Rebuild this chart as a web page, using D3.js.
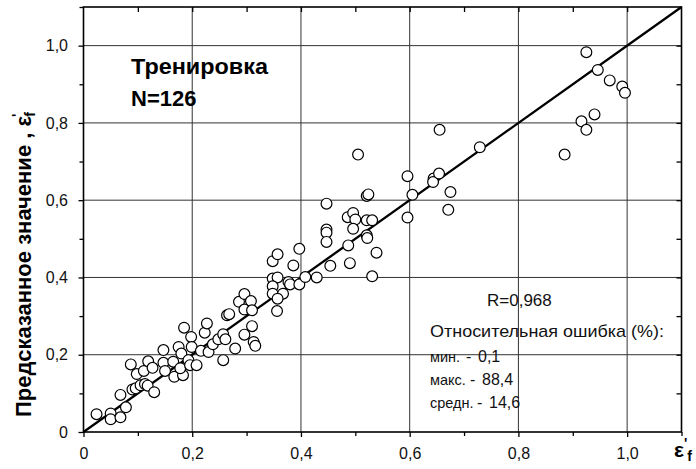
<!DOCTYPE html>
<html><head><meta charset="utf-8">
<script src="https://cdn.jsdelivr.net/npm/d3@7"></script>
<style>
html,body{margin:0;padding:0;background:#fff;}
svg{display:block;font-family:"Liberation Sans",Arial,sans-serif;}
</style></head>
<body>
<svg id="chart" width="696" height="469"></svg>
<script>
// Experimental epsilon'_f (x) vs. predicted (y), training set
const actual = [0.024,0.050,0.050,0.068,0.068,0.078,0.087,0.090,0.096,0.098,0.111,0.119,0.127,0.105,0.113,0.118,0.130,0.147,0.147,0.150,0.165,0.167,0.183,0.178,0.175,0.185,0.180,0.193,0.198,0.199,0.196,0.208,0.216,0.223,0.227,0.230,0.238,0.248,0.257,0.261,0.257,0.279,0.264,0.268,0.296,0.286,0.296,0.308,0.296,0.310,0.310,0.313,0.316,0.356,
0.348,0.357,0.386,0.397,0.348,0.357,0.348,0.348,0.367,0.357,0.377,0.380,0.397,0.408,0.429,0.447,0.447,0.447,0.447,0.454,0.486,0.496,0.500,0.496,0.487,0.490,0.521,0.524,0.521,0.531,0.521,0.522,0.539,0.531,0.505,0.596,0.596,0.605,0.644,0.643,0.654,0.675,0.671,0.655,0.729,
0.925,0.946,0.968,0.991,0.996,0.940,0.916,0.925,0.885];
const predicted = [0.046,0.048,0.033,0.038,0.096,0.064,0.175,0.110,0.113,0.150,0.158,0.183,0.166,0.121,0.124,0.120,0.103,0.212,0.179,0.158,0.182,0.143,0.147,0.165,0.220,0.270,0.203,0.186,0.246,0.220,0.173,0.173,0.210,0.257,0.281,0.207,0.227,0.240,0.253,0.240,0.186,0.216,0.302,0.305,0.252,0.337,0.357,0.339,0.317,0.315,0.274,0.233,0.223,0.313,
0.442,0.460,0.431,0.474,0.397,0.400,0.377,0.358,0.358,0.345,0.388,0.382,0.382,0.401,0.400,0.591,0.524,0.516,0.492,0.430,0.556,0.567,0.550,0.526,0.483,0.437,0.611,0.615,0.548,0.548,0.509,0.502,0.464,0.403,0.718,0.662,0.555,0.614,0.656,0.647,0.669,0.621,0.575,0.782,0.737,
0.983,0.937,0.910,0.894,0.878,0.822,0.804,0.782,0.718];
const majorTicks = [0,0.2,0.4,0.6,0.8,1.0];
const minorTicks = [0.1,0.3,0.5,0.7,0.9,1.1];
const gridTicks = [0.2,0.4,0.6,0.8,1.0];
const allTicks = [0.1,0.2,0.3,0.4,0.5,0.6,0.7,0.8,0.9,1.0];
const titleLines = ["Тренировка","N=126"];
const statsHeader = ["R=0,968","Относительная ошибка (%):"];
const statsLabels = ["мин.","макс.","средн."];
const statsValues = ["0,1","88,4","14,6"];
const yTitle = "Предсказанное значение , ";

const svg = d3.select("#chart");
const x = d3.scaleLinear().domain([0,1.1]).range([83.5,681.5]);
const y = d3.scaleLinear().domain([0,1.1]).range([432,7]);
const fmt = d => d===0 ? "0" : d3.format(".1f")(d).replace(".",",");

// grid
const grid = svg.append("g").attr("stroke","#333").attr("stroke-width",1);
grid.selectAll(".gx").data(gridTicks).join("line")
  .attr("x1",d=>x(d)).attr("x2",d=>x(d)).attr("y1",y(0)).attr("y2",y(1.1));
grid.selectAll(".gy").data(gridTicks).join("line")
  .attr("y1",d=>y(d)).attr("y2",d=>y(d)).attr("x1",x(0)).attr("x2",x(1.1));

// axes
function styleAxis(g){
  g.select(".domain").remove();
  g.selectAll("line").attr("stroke","#000").attr("stroke-width",1.3);
  g.selectAll("text").attr("font-size",16).attr("fill","#111");
}
svg.append("g").attr("transform",`translate(0,${y(0)})`)
  .call(d3.axisBottom(x).tickValues(majorTicks).tickFormat(fmt).tickSize(5).tickPadding(10.5)).call(styleAxis);
svg.append("g").attr("transform",`translate(0,${y(0)})`)
  .call(d3.axisBottom(x).tickValues(minorTicks).tickFormat("").tickSize(4)).call(styleAxis);
svg.append("g").attr("transform",`translate(${x(0)},0)`)
  .call(d3.axisLeft(y).tickValues(majorTicks).tickFormat(fmt).tickSize(5).tickPadding(10.5)).call(styleAxis);
svg.append("g").attr("transform",`translate(${x(0)},0)`)
  .call(d3.axisLeft(y).tickValues(minorTicks).tickFormat("").tickSize(4)).call(styleAxis);
svg.append("g").attr("transform",`translate(0,${y(1.1)})`)
  .call(d3.axisTop(x).tickValues(allTicks).tickFormat("").tickSize(-5)).call(styleAxis);
svg.append("g").attr("transform",`translate(${x(1.1)},0)`)
  .call(d3.axisRight(y).tickValues(allTicks).tickFormat("").tickSize(-5)).call(styleAxis);

// frame
svg.append("rect").attr("x",x(0)).attr("y",y(1.1)).attr("width",x(1.1)-x(0)).attr("height",y(0)-y(1.1))
  .attr("fill","none").attr("stroke","#000").attr("stroke-width",1.6);

// y = x line
svg.append("line").attr("x1",x(0)).attr("y1",y(0)).attr("x2",x(1.1)).attr("y2",y(1.1))
  .attr("stroke","#000").attr("stroke-width",2.3);

// points
svg.append("g").selectAll("circle").data(actual.map((a,i)=>[a,predicted[i]])).join("circle")
  .attr("cx",d=>x(d[0])).attr("cy",d=>y(d[1])).attr("r",5.4)
  .attr("fill","#fff").attr("stroke","#000").attr("stroke-width",1.2);

// title block
svg.append("text").attr("x",131).attr("y",74).attr("font-size",22).attr("font-weight","bold").attr("fill","#000")
  .attr("textLength",137).attr("lengthAdjust","spacingAndGlyphs").text(titleLines[0]);
svg.append("text").attr("x",131).attr("y",106).attr("font-size",22).attr("font-weight","bold").attr("fill","#000")
  .text(titleLines[1]);

// stats
svg.append("text").attr("x",487).attr("y",306).attr("font-size",17).attr("fill","#111").text(statsHeader[0]);
svg.append("text").attr("x",430).attr("y",337).attr("font-size",17).attr("fill","#111")
  .attr("textLength",234).attr("lengthAdjust","spacingAndGlyphs").text(statsHeader[1]);
const dashX = [466,470,477];
const valX = [478,482,489];
statsLabels.forEach((l,i)=>{
  const yy = 362 + i*23;
  svg.append("text").attr("x",430).attr("y",yy).attr("font-size",14.5).attr("fill","#111").text(l);
  svg.append("text").attr("x",dashX[i]).attr("y",yy).attr("font-size",16).attr("fill","#111").text("-");
  svg.append("text").attr("x",valX[i]).attr("y",yy).attr("font-size",16).attr("fill","#111").text(statsValues[i]);
});

// y-axis title
const yt = svg.append("text").attr("transform","translate(31,417) rotate(-90)")
  .attr("font-size",22).attr("font-weight","bold").attr("fill","#000");
yt.append("tspan").text(yTitle);
yt.append("tspan").text("ε");
yt.append("tspan").attr("font-size",14).attr("dy",-9).attr("dx",-1).text("'");
yt.append("tspan").attr("font-size",14).attr("dy",13).attr("dx",-3).text("f");

// x-axis label
const xt = svg.append("text").attr("x",674).attr("y",457).attr("font-size",21).attr("font-weight","bold").attr("fill","#000");
xt.append("tspan").text("ε");
xt.append("tspan").attr("font-size",14).attr("dy",-9).attr("dx",0).text("'");
xt.append("tspan").attr("font-size",14).attr("dy",13).attr("dx",0).text("f");
</script>
</body></html>
